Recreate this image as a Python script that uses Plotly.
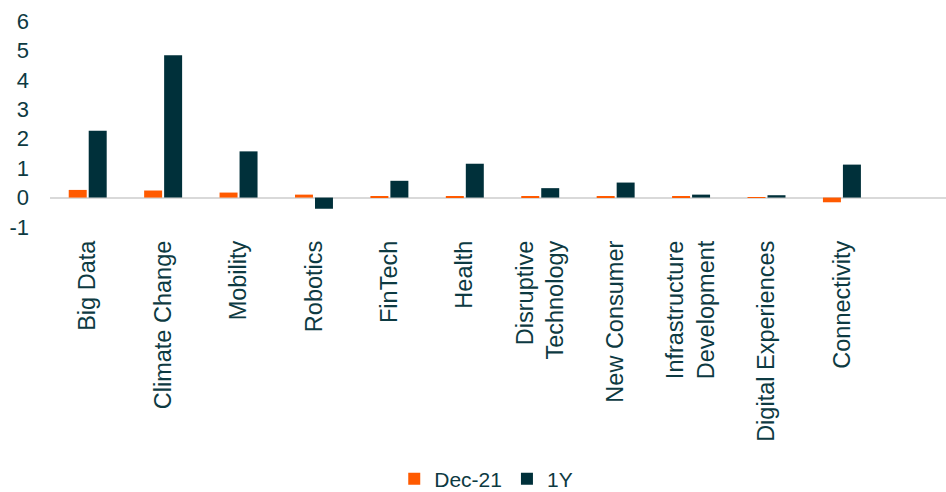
import plotly.graph_objects as go

# Theme names along the category axis
themes = [
    "Big Data", "Climate Change", "Mobility", "Robotics", "FinTech", "Health",
    "Disruptive<br>Technology", "New Consumer", "Infrastructure<br>Development",
    "Digital Experiences", "Connectivity",
]

# Series values
dec21 = [0.26, 0.24, 0.17, 0.10, 0.02, 0.02, 0.02, 0.02, 0.02, 0.01, -0.16]
one_year = [2.27, 4.84, 1.57, -0.38, 0.57, 1.15, 0.32, 0.51, 0.10, 0.08, 1.12]

# Value axis ticks (plain hyphen for the negative label)
y_ticks = [-1, 0, 1, 2, 3, 4, 5, 6]
y_tick_text = ["-1", "0", "1", "2", "3", "4", "5", "6"]

ORANGE = "#FF5A00"
DARK = "#00303A"
TEXT = "#0D3A42"
FONT = "Liberation Sans, Arial, sans-serif"

fig = go.Figure()
fig.add_trace(go.Bar(name="Dec-21", x=themes, y=dec21, marker_color=ORANGE,
                     marker_line_width=0))
fig.add_trace(go.Bar(name="1Y", x=themes, y=one_year, marker_color=DARK,
                     marker_line_width=0))

fig.update_layout(
    width=946, height=492,
    margin=dict(l=50, r=0, t=21, b=265, autoexpand=False),
    paper_bgcolor="white", plot_bgcolor="white",
    barmode="group", bargap=0.47, bargroupgap=0.1,
    font=dict(family=FONT, color=TEXT, size=21),
    showlegend=True,
    legend=dict(orientation="h", x=0.514, xanchor="center", xref="container",
                y=0.026, yanchor="middle", yref="container",
                font=dict(size=21, color=TEXT), itemwidth=30,
                traceorder="normal"),
)

fig.update_xaxes(
    range=[-0.5, 11.38], tickangle=-90, showgrid=False, showline=False,
    ticks="", tickfont=dict(size=23.5, color=TEXT), ticklabelstandoff=8,
)
fig.update_yaxes(
    range=[-1, 6], tickvals=y_ticks, ticktext=y_tick_text,
    showgrid=False, showline=False,
    zeroline=True, zerolinecolor="#D9D9D9", zerolinewidth=2,
    ticks="", tickfont=dict(size=22, color=TEXT), ticklabelstandoff=20,
    layer="above traces",
)

fig.write_html("out.html")
